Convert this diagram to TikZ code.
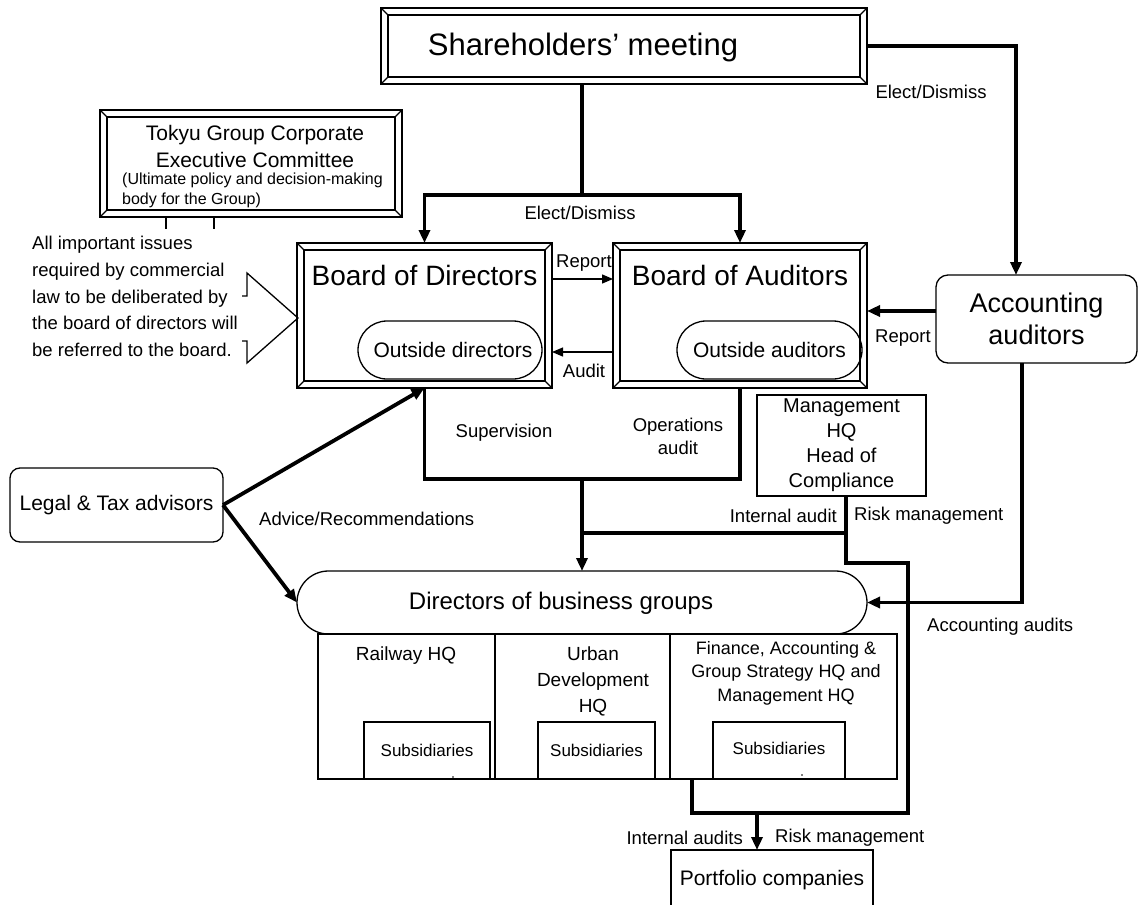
\documentclass[tikz,border=0pt]{standalone}
\usepackage{fontspec}
\setmainfont{Liberation Sans}
\usetikzlibrary{arrows.meta,calc,shapes.misc}
\newcommand\bevelframe[1]{%
  \draw[frame] ($(#1.north west)+(7,7)$) rectangle ($(#1.south east)+(-7,-7)$);
  \draw[frame] (#1.north west) -- ++(7,7) (#1.north east) -- ++(-7,7)
               (#1.south west) -- ++(7,-7) (#1.south east) -- ++(-7,-7);}
\begin{document}
\begin{tikzpicture}[x=1pt,y=-1pt,
  frame/.style={line width=1.3pt},
  bx/.style={draw,line width=1.3pt,inner sep=0pt,outer sep=0pt,align=center},
  pill/.style={bx,rounded rectangle},
  thk/.style={line width=3.8pt},
  thn/.style={line width=1.3pt},
  arr/.style={-{Triangle[length=13pt,width=11pt]}},
  sarr/.style={-{Triangle[length=11pt,width=9pt]}},
  lab/.style={font=\fontsize{18.5}{23}\selectfont,inner sep=0pt,align=center},
]
\useasboundingbox (0,0) rectangle (1141,905);
\clip (0,0) rectangle (1141,905);

% Shareholders
\node[bx,minimum width=486,minimum height=76] (sh) at (624,46) {};
\bevelframe{sh}
\node[font=\fontsize{31}{36}\selectfont] (shl) at (583,47) {Shareholders’ meeting};

% Tokyu group
\node[bx,minimum width=302,minimum height=107] (tk) at (251,163.5) {};
\bevelframe{tk}
\node[font=\fontsize{21}{27}\selectfont,align=center,inner sep=0pt] (tkl) at (255,146.5) {Tokyu Group Corporate\\Executive Committee};
\node[font=\fontsize{16}{20}\selectfont,align=left,anchor=west,inner sep=0pt] (tks) at (122,190) {(Ultimate policy and decision-making\\body for the Group)};
\draw[thn] ($(tk.south west)+(66,0)$) -- ++(0,12);
\draw[thn] ($(tk.south west)+(114,0)$) -- ++(0,12);

% issues text and outline arrow
\node[lab,align=left,anchor=west,font=\fontsize{18.5}{26.7}\selectfont] (iss) at (32,296.5) {All important issues\\required by commercial\\law to be deliberated by\\the board of directors will\\be referred to the board.};
\draw[thn] (242,296) -- (247,296) -- (247,273) -- (298,318) -- (247,363) -- (247,341) -- (242,341);

% Boards
\node[bx,minimum width=255,minimum height=145] (bod) at (424.5,315.5) {};
\bevelframe{bod}
\node[font=\fontsize{28}{34}\selectfont,inner sep=0pt] (bodl) at (424.5,275) {Board of Directors};
\node[pill,minimum width=184,minimum height=58,font=\fontsize{21}{25}\selectfont] (od) at (450,350) {\hspace*{6pt}Outside directors};

\node[bx,minimum width=254,minimum height=145] (boa) at (740,315.5) {};
\bevelframe{boa}
\node[font=\fontsize{28}{34}\selectfont,inner sep=0pt] (boal) at (740,275) {Board of Auditors};
\node[pill,minimum width=185,minimum height=58,font=\fontsize{21}{25}\selectfont] (oa) at (769.5,350) {Outside auditors};

% Accounting auditors
\node[bx,rounded corners=12pt,minimum width=201,minimum height=88,font=\fontsize{27}{32}\selectfont] (acc) at (1036.5,319) {Accounting\\auditors};

% Management HQ
\node[bx,minimum width=169,minimum height=101,font=\fontsize{20}{25}\selectfont] (mg) at (841.5,445.5) {Management\\HQ\\Head of\\Compliance};

% Legal
\node[bx,rounded corners=10pt,minimum width=213,minimum height=74,font=\fontsize{21}{25}\selectfont] (legal) at (116.5,505) {Legal \& Tax advisors};

% Directors of business groups
\node[pill,minimum width=570,minimum height=63] (dbg) at (582,602.5) {};
\node[font=\fontsize{24}{29}\selectfont,inner sep=0pt] (dbgl) at (561,603) {Directors of business groups};

% HQ columns
\node[bx,minimum width=177,minimum height=145] (rail) at (406.5,706.5) {};
\node[bx,minimum width=175,minimum height=145] (urb) at (582.5,706.5) {};
\node[bx,minimum width=227,minimum height=145] (fin) at (783.5,706.5) {};
\node[font=\fontsize{19}{24}\selectfont,inner sep=0pt] (raill) at (406,656) {Railway HQ};
\node[font=\fontsize{19}{26}\selectfont,inner sep=0pt,align=center] (urbl) at (593,681) {Urban\\Development\\HQ};
\node[font=\fontsize{18}{23.5}\selectfont,inner sep=0pt,align=center] (finl) at (786,673) {Finance, Accounting \&\\Group Strategy HQ and\\Management HQ};
\node[bx,minimum width=126,minimum height=57,font=\fontsize{17}{20}\selectfont] (s1) at (427,750.5) {Subsidiaries};
\node[bx,minimum width=117,minimum height=57,font=\fontsize{17}{20}\selectfont] (s2) at (596.5,750.5) {Subsidiaries};
\node[bx,minimum width=132,minimum height=57,font=\fontsize{17}{20}\selectfont] (s3) at (779,750.5) {\raisebox{5pt}{Subsidiaries}};
\fill (453,777) circle (0.9);
\fill (802,775) circle (0.9);

% Portfolio
\node[bx,minimum width=202,minimum height=60,font=\fontsize{21}{25}\selectfont] (port) at (772,880) {Portfolio companies};

% ---- connectors ----
\coordinate (split) at (582,195);
\draw[thk] (split |- sh.south) -- (split);
\draw[thk,arr] (split) -| (bod.north);
\draw[thk,arr] (split) -| (boa.north);
\draw[thk,arr] (sh.east) -| ($(acc.north)+(-20.5,0)$);

\draw[thn,sarr] ($(bod.east)+(0,-36.5)$) -- ($(boa.west)+(0,-36.5)$);
\draw[thn,sarr] ($(boa.west)+(0,36.5)$) -- ($(bod.east)+(0,36.5)$);
\draw[thk,arr] ($(acc.west)+(0,-8)$) -- ($(boa.east)+(0,-4.5)$);

\coordinate (sup) at (582,479);
\draw[thk] (bod.south) |- (sup) -| (boa.south);
\draw[thk,arr] (sup) -- (dbg.north);

\coordinate (ia) at (582,533);
\coordinate (mgb) at ($(mg.south)+(4.5,0)$);
\coordinate (rm1) at (908,563);
\coordinate (pj) at (757,813);
\coordinate (ia2) at (692,779);
\draw[thk] (ia) -| (mgb);
\draw[thk] (mgb) |- (rm1) |- (pj);
\draw[thk] (ia2) |- (pj);
\draw[thk,arr] (pj) -- (pj |- port.north);

\coordinate (aa) at ($(acc.south)+(-14.5,0)$);
\draw[thk,arr] (aa) |- (dbg.east);

\draw[thk,arr] (legal.east) -- (bod.south);
\draw[thk,arr] (legal.east) -- (dbg.west);

% ---- labels ----
\node[lab] (l1) at (931,92) {Elect/Dismiss};
\node[lab] (l2) at (580,213) {Elect/Dismiss};
\node[lab] (l3) at (584,263) {Report};
\node[lab] (l4) at (584,371) {Audit};
\node[lab] (l5) at (903,338) {Report};
\node[lab] (l6) at (504,433) {Supervision};
\node[lab] (l7) at (678,436) {Operations\\audit};
\node[lab,anchor=east] (l8) at (837,516) {Internal audit};
\node[lab,anchor=west] (l9) at (854,516) {Risk management};
\node[lab,anchor=west] (l10) at (259,519) {Advice/Recommendations};
\node[lab,anchor=west] (l11) at (927,627) {Accounting audits};
\node[lab,anchor=east] (l12) at (743,838) {Internal audits};
\node[lab,anchor=west] (l13) at (775,838) {Risk management};
\end{tikzpicture}
\end{document}
